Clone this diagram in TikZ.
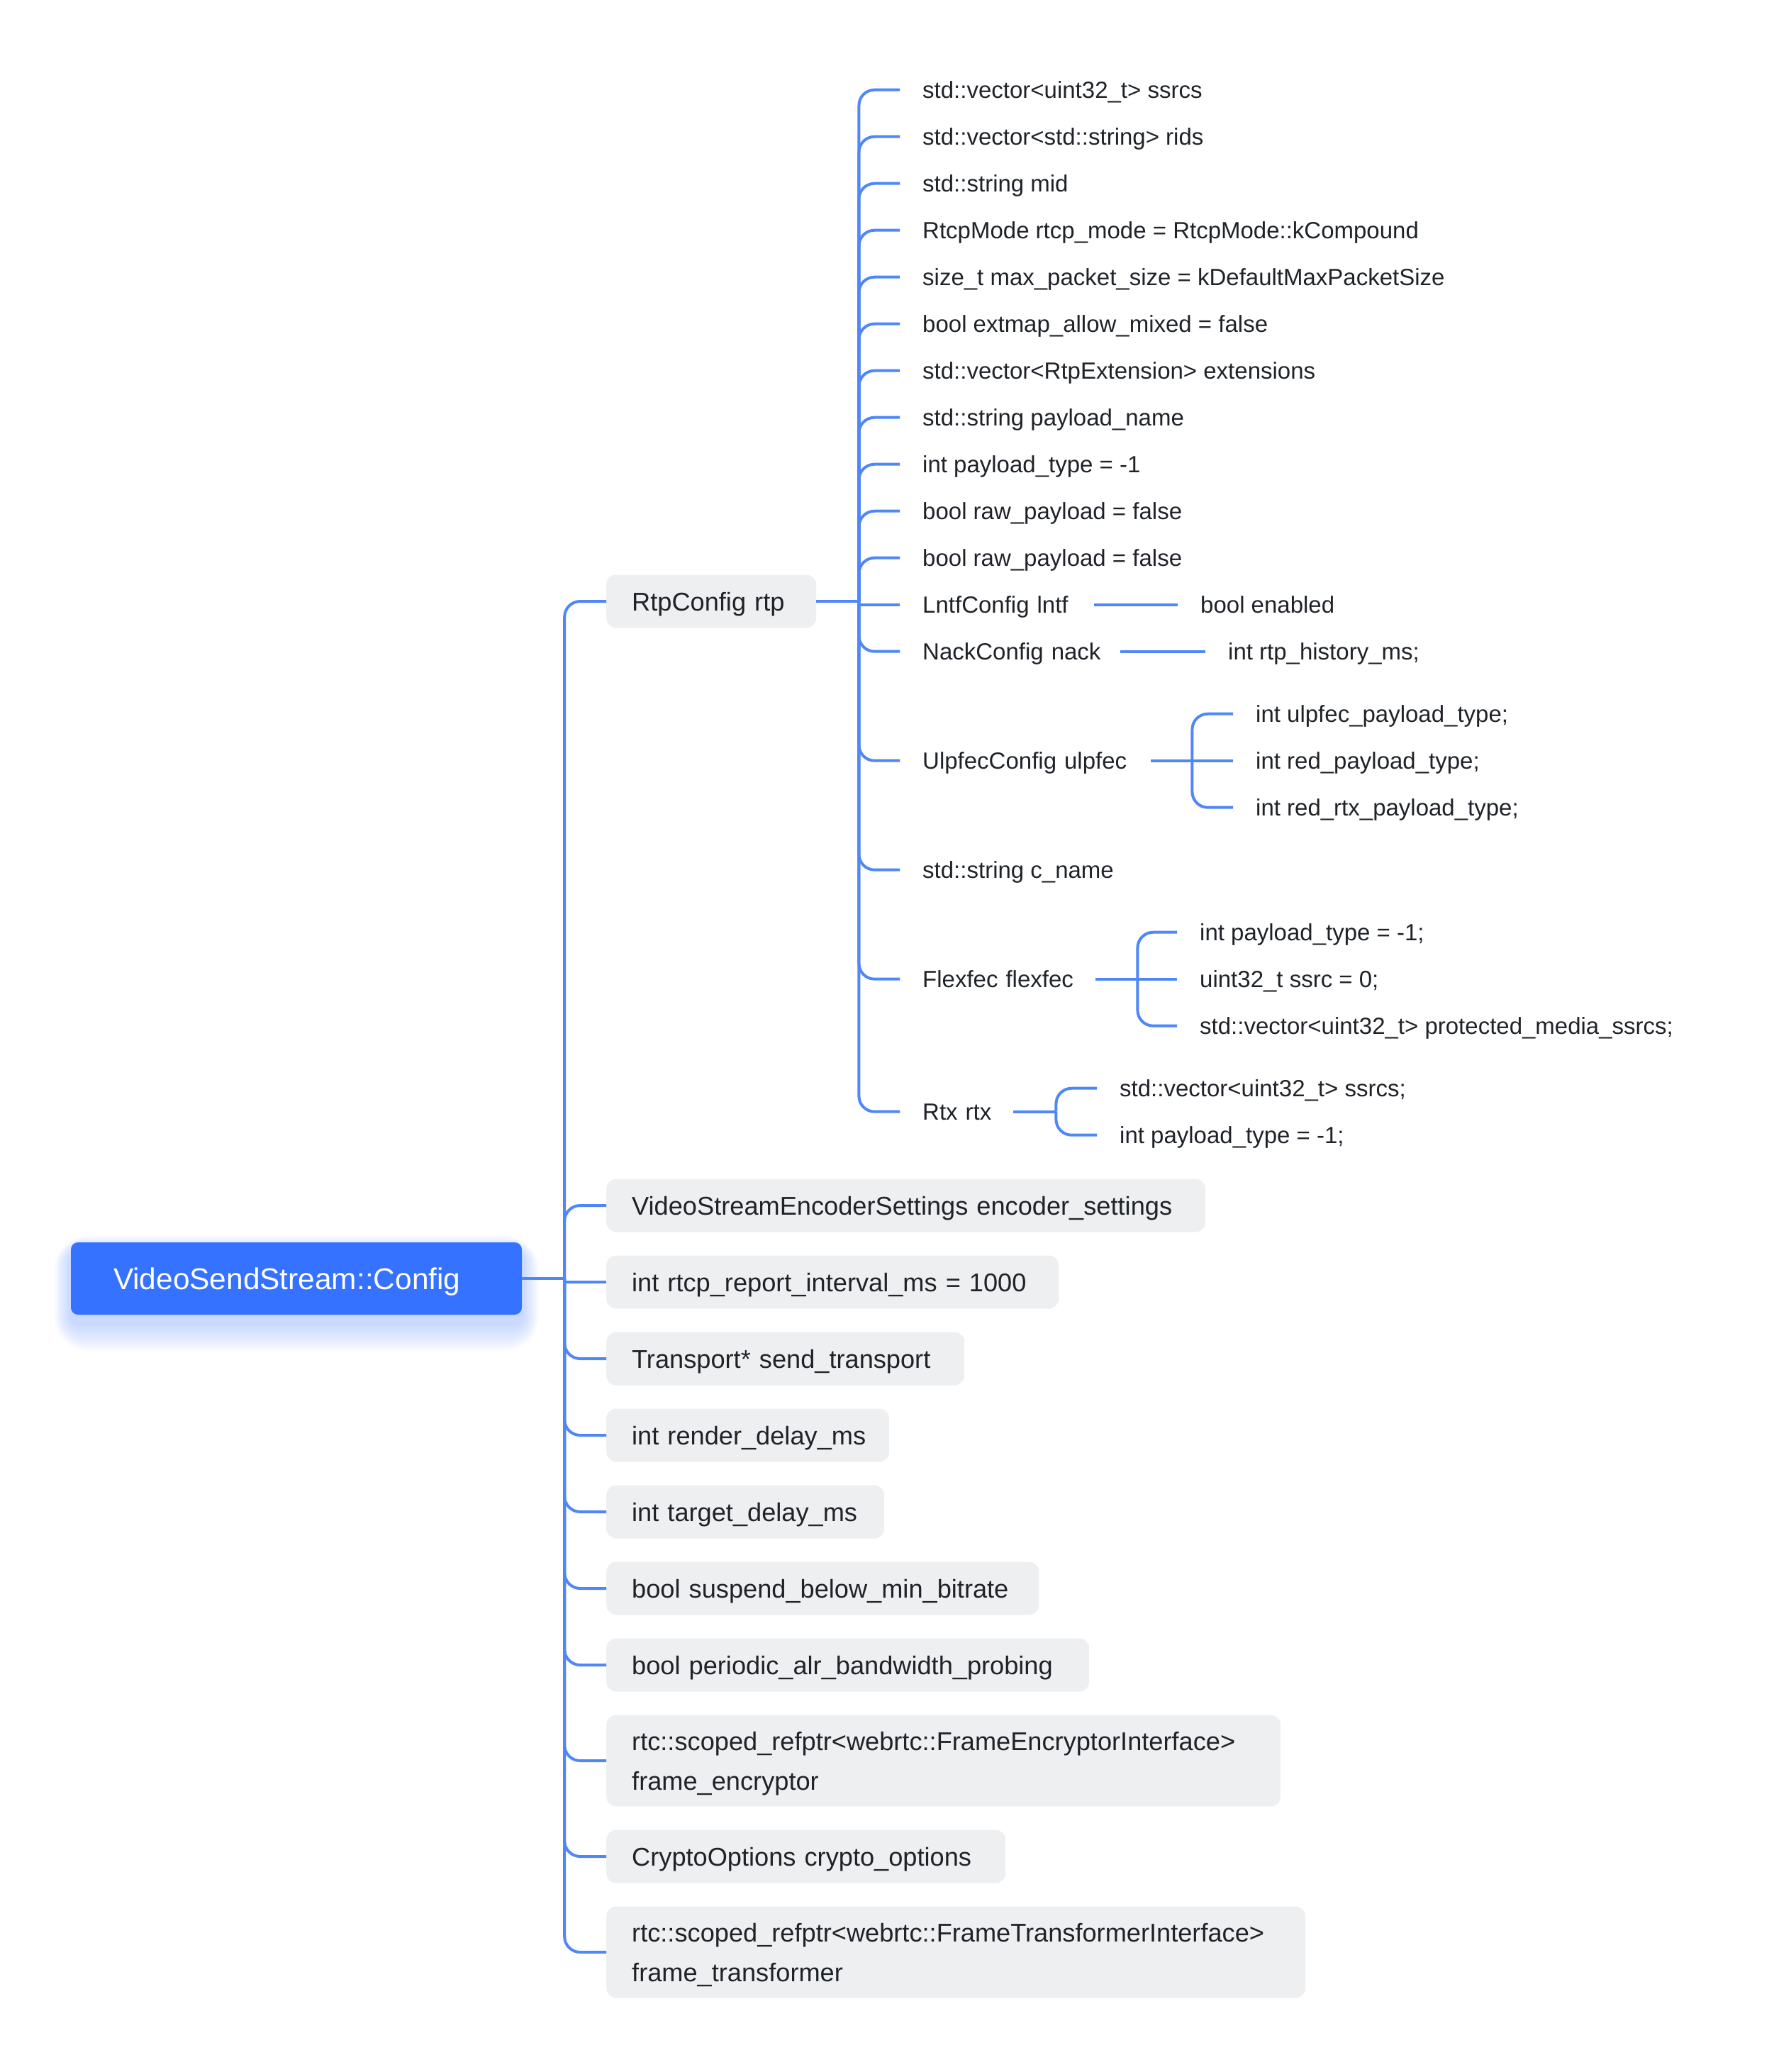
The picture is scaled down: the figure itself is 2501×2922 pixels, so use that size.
\documentclass[tikz,border=0pt]{standalone}
\usepackage{fontspec}
\setmainfont{Liberation Sans}
\usetikzlibrary{calc}
\definecolor{rootblue}{HTML}{3572FF}
\definecolor{linkblue}{HTML}{4F87F8}
\definecolor{boxgrey}{HTML}{EEEFF1}
\definecolor{ink}{HTML}{1F2329}

\begin{document}
\begin{tikzpicture}[x=1pt, y=-1pt,
  link/.style={draw=linkblue, line width=4pt, rounded corners=22pt},
  rootbox/.style={fill=rootblue, rounded corners=10pt, text=white,
    font=\fontsize{42.4}{50}\selectfont, align=left, text width=516pt,
    inner xsep=60pt, inner ysep=0pt, minimum height=102pt,
    text height=30pt, text depth=0pt},
  fieldbox/.style={fill=boxgrey, rounded corners=14pt, text=ink,
    font=\fontsize{36.2}{56}\selectfont, anchor=west, align=left,
    inner xsep=36pt, inner ysep=0pt, minimum height=75pt,
    text height=26pt, text depth=0pt},
  twoline/.style={minimum height=129pt, text depth=56pt},
  leaf/.style={text=ink, font=\fontsize{33}{40}\selectfont, anchor=west,
    align=left, inner xsep=32pt, inner ysep=4pt,
    text height=23.6pt, text depth=0pt},
]
\useasboundingbox (0,0) rectangle (2501,2922);

% soft glow under the root box
\foreach \i [evaluate=\i as \e using 2*\i, evaluate=\i as \r using 10+2*\i] in {1,...,20}{
  \fill[rootblue, opacity=0.016, rounded corners=\r pt]
    (100-0.6*\e, 1766-0.6*\e) rectangle (736+0.6*\e, 1866+\e);
}

% root
\node[rootbox] (root) at (418,1803) {VideoSendStream::Config};

% first level fields
\node[fieldbox, text width=224pt] (rtp) at (855,848) {\mbox{RtpConfig rtp}};
\node[fieldbox, text width=773pt] (encoder) at (855,1700) {\mbox{VideoStreamEncoderSettings encoder\_settings}};
\node[fieldbox, text width=566pt] (rtcpint) at (855,1808) {\mbox{int rtcp\_report\_interval\_ms = 1000}};
\node[fieldbox, text width=433pt] (transport) at (855,1916) {\mbox{Transport* send\_transport}};
\node[fieldbox, text width=327pt] (render) at (855,2024) {\mbox{int render\_delay\_ms}};
\node[fieldbox, text width=320pt] (target) at (855,2132) {\mbox{int target\_delay\_ms}};
\node[fieldbox, text width=538pt] (suspend) at (855,2240) {\mbox{bool suspend\_below\_min\_bitrate}};
\node[fieldbox, text width=609pt] (alr) at (855,2348) {\mbox{bool periodic\_alr\_bandwidth\_probing}};
\node[fieldbox, twoline, text width=879pt] (encryptor) at (855,2483) {\mbox{rtc::scoped\_refptr<webrtc::FrameEncryptorInterface>}\\\mbox{frame\_encryptor}};
\node[fieldbox, text width=491pt] (crypto) at (855,2618) {\mbox{CryptoOptions crypto\_options}};
\node[fieldbox, twoline, text width=914pt] (transformer) at (855,2753) {\mbox{rtc::scoped\_refptr<webrtc::FrameTransformerInterface>}\\\mbox{frame\_transformer}};

% RtpConfig members
\node[leaf] (ssrcs) at (1269,126.7) {std::vector<uint32\_t> ssrcs};
\node[leaf] (rids) at (1269,192.7) {std::vector<std::string> rids};
\node[leaf] (mid) at (1269,258.7) {std::string mid};
\node[leaf] (rtcpmode) at (1269,324.7) {RtcpMode rtcp\_mode = RtcpMode::kCompound};
\node[leaf] (maxpkt) at (1269,390.7) {size\_t max\_packet\_size = kDefaultMaxPacketSize};
\node[leaf] (extmap) at (1269,456.7) {bool extmap\_allow\_mixed = false};
\node[leaf] (exts) at (1269,522.7) {std::vector<RtpExtension> extensions};
\node[leaf] (plname) at (1269,588.7) {std::string payload\_name};
\node[leaf] (pltype) at (1269,654.7) {int payload\_type = -1};
\node[leaf] (rawa) at (1269,720.7) {bool raw\_payload = false};
\node[leaf] (rawb) at (1269,786.7) {bool raw\_payload = false};
\node[leaf, text width=210pt] (lntf) at (1269,852.7) {\mbox{LntfConfig lntf}};
\node[leaf, text width=247pt] (nack) at (1269,918.7) {\mbox{NackConfig nack}};
\node[leaf, text width=290pt] (ulpfec) at (1269,1072.7) {\mbox{UlpfecConfig ulpfec}};
\node[leaf] (cname) at (1269,1226.7) {std::string c\_name};
\node[leaf, text width=212pt] (flexfec) at (1269,1380.7) {\mbox{Flexfec flexfec}};
\node[leaf, text width=96pt] (rtx) at (1269,1567.7) {\mbox{Rtx rtx}};

% nested members
\node[leaf] (lntfen) at (1661,852.7) {bool enabled};
\node[leaf] (nackhist) at (1700,918.7) {int rtp\_history\_ms;};
\node[leaf] (ulpa) at (1739,1006.7) {int ulpfec\_payload\_type;};
\node[leaf] (ulpb) at (1739,1072.7) {int red\_payload\_type;};
\node[leaf] (ulpc) at (1739,1138.7) {int red\_rtx\_payload\_type;};
\node[leaf] (flexa) at (1660,1314.7) {int payload\_type = -1;};
\node[leaf] (flexb) at (1660,1380.7) {uint32\_t ssrc = 0;};
\node[leaf] (flexc) at (1660,1446.7) {std::vector<uint32\_t> protected\_media\_ssrcs;};
\node[leaf] (rtxa) at (1547,1534.7) {std::vector<uint32\_t> ssrcs;};
\node[leaf] (rtxb) at (1547,1600.7) {int payload\_type = -1;};

% connectors: root -> fields
\coordinate (f0) at ($(root.east)+(60,0)$);
\draw[link] (root.east) -- (f0);
\foreach \c in {rtp,encoder,transport,render,target,suspend,alr,encryptor,crypto,transformer}
  \draw[link] (f0) |- (\c.west);
\draw[link] (f0 |- rtcpint.west) -- (rtcpint.west);

% connectors: RtpConfig -> members
\coordinate (f1) at ($(rtp.east)+(60,0)$);
\draw[link] (rtp.east) -- (f1);
\foreach \c in {ssrcs,rids,mid,rtcpmode,maxpkt,extmap,exts,plname,pltype,rawa,rawb,nack,ulpfec,cname,flexfec,rtx}
  \draw[link] (f1) |- (\c.west);
\draw[link] (f1 |- lntf.west) -- (lntf.west);

% connectors: nested members
\draw[link] (lntf.east) -- (lntfen.west);
\draw[link] (nack.east) -- (nackhist.west);

\coordinate (f2) at ($(ulpfec.east)+(58,0)$);
\draw[link] (ulpfec.east) -- (ulpb.west);
\draw[link] (f2) |- (ulpa.west);
\draw[link] (f2) |- (ulpc.west);

\coordinate (f3) at ($(flexfec.east)+(59,0)$);
\draw[link] (flexfec.east) -- (flexb.west);
\draw[link] (f3) |- (flexa.west);
\draw[link] (f3) |- (flexc.west);

\coordinate (f4) at ($(rtx.east)+(60,0)$);
\draw[link] (rtx.east) -- (f4);
\draw[link] (f4) |- (rtxa.west);
\draw[link] (f4) |- (rtxb.west);
\end{tikzpicture}
\end{document}
